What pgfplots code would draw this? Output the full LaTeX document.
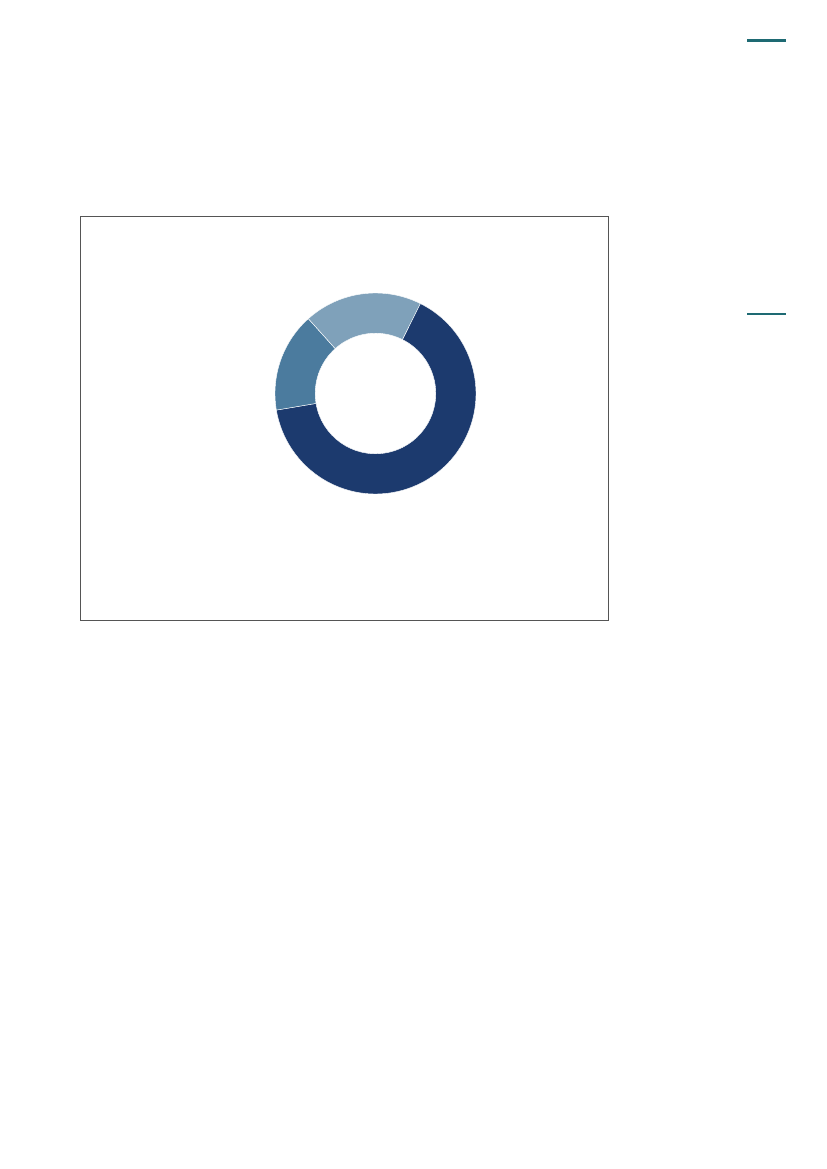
\documentclass[border=0pt]{standalone}
\usepackage{pgfplots}
\usepackage{pgfplotstable}
\pgfplotsset{compat=1.18}
\definecolor{navy}{HTML}{1C3A6E}
\definecolor{midblue}{HTML}{4B7B9E}
\definecolor{lightblue}{HTML}{7FA1BA}
\definecolor{teal2}{HTML}{1E6A73}
\definecolor{frame}{HTML}{555555}
\colorlet{col0}{navy}
\colorlet{col1}{midblue}
\colorlet{col2}{lightblue}
\pgfplotstableread{
label value
A 65
B 16
C 19
}\donutdata
\newcommand\Rout{25.52mm}
\newcommand\Rin{15.31mm}
\begin{document}%
\begin{tikzpicture}[x=0.25393mm,y=-0.25393mm]
\pgfmathsetmacro\cur{63.5}
\pgfplotstablegetrowsof{\donutdata}\pgfmathtruncatemacro\nrows{\pgfplotsretval-1}
\pgfplotsforeachungrouped \i in {0,...,\nrows}{%
  \pgfplotstablegetelem{\i}{value}\of\donutdata
  \pgfmathsetmacro\nxt{\cur-3.6*\pgfplotsretval}%
  \expandafter\xdef\csname sa\i\endcsname{\cur}%
  \expandafter\xdef\csname ea\i\endcsname{\nxt}%
  \global\let\cur\nxt
}
\path (0,0) rectangle (827,1169);
\draw[frame, line width=0.25mm] (80,216.5) rectangle (608.5,620);
\draw[teal2, line width=0.76mm] (747,40.7) -- (786,40.7);
\draw[teal2, line width=0.4mm] (747,314) -- (786,314);
\begin{axis}[at={(95.35mm,-99.92mm)}, anchor=center, hide axis, scale only axis,
  width=51.04mm, height=51.04mm, xmin=-1, xmax=1, ymin=-1, ymax=1]
\addplot[draw=none] coordinates {(0,0)};
\pgfplotsinvokeforeach{0,1,2}{
  \fill[col#1, draw=white, line width=0.3pt, shift={(axis cs:0,0)}]
    (\csname sa#1\endcsname:\Rout)
    arc[start angle=\csname sa#1\endcsname, end angle=\csname ea#1\endcsname, radius=\Rout]
    -- (\csname ea#1\endcsname:\Rin)
    arc[start angle=\csname ea#1\endcsname, end angle=\csname sa#1\endcsname, radius=\Rin]
    -- cycle;
}
\end{axis}
\end{tikzpicture}%
\end{document}
